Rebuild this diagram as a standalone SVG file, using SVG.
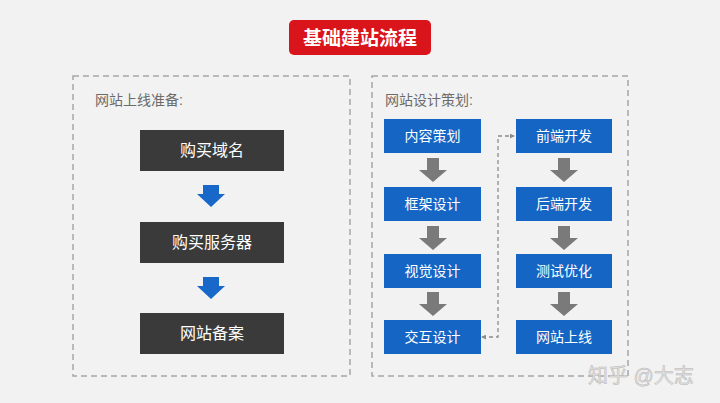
<svg xmlns="http://www.w3.org/2000/svg" width="720" height="403" viewBox="0 0 720 403">
<defs>
<style>
.t{font-family:"Liberation Sans","Noto Sans CJK SC",sans-serif;}
.frame{fill:none;stroke:#a6a6a6;stroke-width:1.5;stroke-dasharray:6 4;}
.lbl{font-size:14px;fill:#6b6b6b;}
.dark{fill:#3a3a3a;}
.blue{fill:#1565c4;}
.wt{fill:#ffffff;text-anchor:middle;dominant-baseline:central;}
.bar{fill:#1768c8;}
.garr{fill:#7a7a7a;}
.conn{fill:none;stroke:#8c8c8c;stroke-width:1.3;stroke-dasharray:4 3;}
</style>
<marker id="ah" viewBox="0 0 6 6" refX="5" refY="3" markerWidth="5" markerHeight="5" orient="auto-start-reverse" markerUnits="userSpaceOnUse">
<path d="M0,0 L6,3 L0,6 z" fill="#8c8c8c"/>
</marker>
<path id="barr" d="M-8,0 H8 V9 H14 L0,22 L-14,9 H-8 z"/>
<path id="gray" d="M-6,0 H6 V12 H14 L0,24 L-14,12 H-6 z"/>
</defs>
<rect width="720" height="403" fill="#f2f2f2"/>

<g id="title">
<rect x="289" y="20" width="142" height="35" rx="5" fill="#d9141b"/>
<text class="t wt" x="360" y="38" style="font-size:19px;font-weight:bold">基础建站流程</text>
</g>

<g id="panel-left">
<rect class="frame" x="73" y="76" width="277" height="300"/>
<text class="t lbl" x="95" y="105">网站上线准备:</text>
</g>
<g id="panel-right">
<rect class="frame" x="372" y="76" width="256" height="300"/>
<text class="t lbl" x="385" y="105">网站设计策划:</text>
</g>

<g id="n-domain"><rect class="dark" x="140" y="130" width="144" height="41"/><text class="t wt" x="212" y="150.5" style="font-size:16px">购买域名</text></g>
<g id="n-server"><rect class="dark" x="140" y="222" width="144" height="41"/><text class="t wt" x="212" y="242.5" style="font-size:16px">购买服务器</text></g>
<g id="n-record"><rect class="dark" x="140" y="313" width="144" height="41"/><text class="t wt" x="212" y="333.5" style="font-size:16px">网站备案</text></g>

<g id="n-content"><rect class="blue" x="384" y="119" width="97" height="34"/><text class="t wt" x="432.5" y="136" style="font-size:14px">内容策划</text></g>
<g id="n-frame"><rect class="blue" x="384" y="187" width="97" height="34"/><text class="t wt" x="432.5" y="204" style="font-size:14px">框架设计</text></g>
<g id="n-visual"><rect class="blue" x="384" y="254" width="97" height="34"/><text class="t wt" x="432.5" y="271" style="font-size:14px">视觉设计</text></g>
<g id="n-interact"><rect class="blue" x="384" y="320" width="97" height="34"/><text class="t wt" x="432.5" y="337" style="font-size:14px">交互设计</text></g>

<g id="n-front"><rect class="blue" x="516" y="119" width="96" height="34"/><text class="t wt" x="564" y="136" style="font-size:14px">前端开发</text></g>
<g id="n-back"><rect class="blue" x="516" y="187" width="96" height="34"/><text class="t wt" x="564" y="204" style="font-size:14px">后端开发</text></g>
<g id="n-test"><rect class="blue" x="516" y="254" width="96" height="34"/><text class="t wt" x="564" y="271" style="font-size:14px">测试优化</text></g>
<g id="n-online"><rect class="blue" x="516" y="320" width="96" height="34"/><text class="t wt" x="564" y="337" style="font-size:14px">网站上线</text></g>

<g id="connectors">
<use href="#barr" class="bar" transform="translate(211,185)"/>
<use href="#barr" class="bar" transform="translate(211,277)"/>
<use href="#gray" class="garr" transform="translate(433,158)"/>
<use href="#gray" class="garr" transform="translate(433,226)"/>
<use href="#gray" class="garr" transform="translate(433,292)"/>
<use href="#gray" class="garr" transform="translate(564,158)"/>
<use href="#gray" class="garr" transform="translate(564,226)"/>
<use href="#gray" class="garr" transform="translate(564,292)"/>
<path class="conn" d="M482,337 H498 V136 H514" marker-start="url(#ah)" marker-end="url(#ah)"/>
</g>

<text class="t" x="588" y="383" style="font-size:20px;fill:#e4e4e4;stroke:#b5b5b5;stroke-width:0.5">知乎 @大志</text>
</svg>
